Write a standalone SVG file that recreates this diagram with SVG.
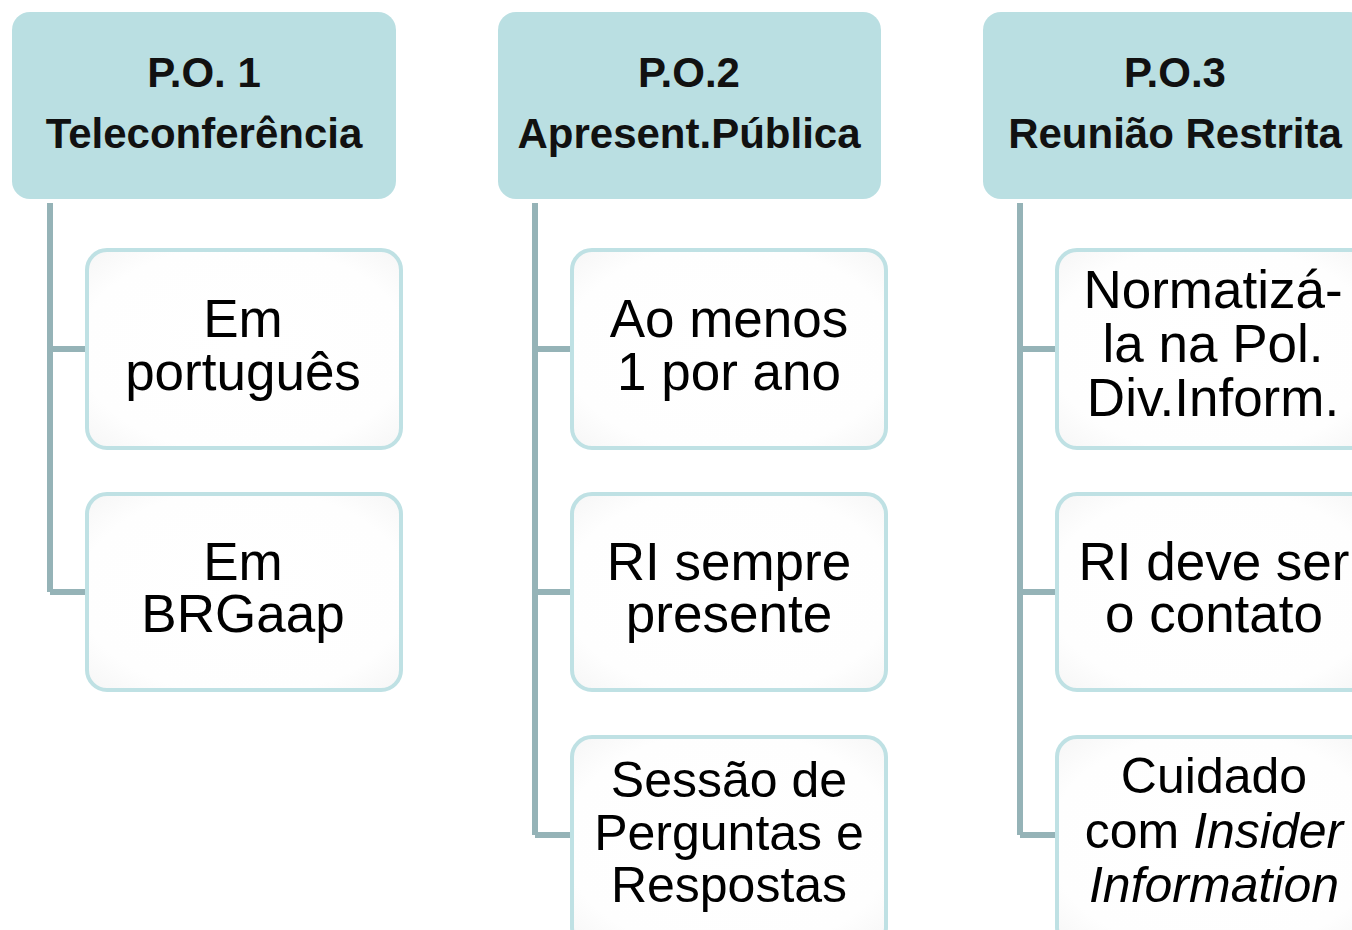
<svg xmlns="http://www.w3.org/2000/svg" width="1352" height="930" viewBox="0 0 1352 930">
<style>
.hdr{fill:#badfe2;}
.child{fill:url(#cg);stroke:#bfe1e4;stroke-width:4;}
.conn{stroke:#95b3b7;stroke-width:6;fill:none;}
.ht{font-family:"Liberation Sans",Arial,sans-serif;font-weight:bold;font-size:42px;fill:#111;text-anchor:middle;}
.ct{font-family:"Liberation Sans",Arial,sans-serif;font-size:53px;fill:#000;text-anchor:middle;}
.c3{font-size:50px;}
</style>
<defs>
<radialGradient id="cg" cx="50%" cy="50%" r="70%">
<stop offset="0" stop-color="#ffffff"/>
<stop offset="0.75" stop-color="#fefefe"/>
<stop offset="1" stop-color="#f6f6f6"/>
</radialGradient>
</defs>
<rect width="1352" height="930" fill="#ffffff"/>
<g id="connectors">
<path class="conn" d="M50 203 V592 M50 349 H87 M50 592 H87"/>
<path class="conn" d="M535 203 V835 M535 349 H572 M535 592 H572 M535 835 H572"/>
<path class="conn" d="M1020 203 V835 M1020 349 H1057 M1020 592 H1057 M1020 835 H1057"/>
</g>
<g id="po1">
<rect class="hdr" x="12" y="12" width="384" height="187" rx="18"/>
<text class="ht" x="204" y="87">P.O. 1</text>
<text class="ht" x="204" y="148">Teleconferência</text>
</g>
<g id="po1-a">
<rect class="child" x="87" y="250" width="314" height="198" rx="20"/>
<text class="ct" x="243" y="337">Em</text>
<text class="ct" x="243" y="390">português</text>
</g>
<g id="po1-b">
<rect class="child" x="87" y="494" width="314" height="196" rx="20"/>
<text class="ct" x="243" y="580">Em</text>
<text class="ct" x="243" y="632">BRGaap</text>
</g>
<g id="po2">
<rect class="hdr" x="498" y="12" width="383" height="187" rx="18"/>
<text class="ht" x="689" y="87">P.O.2</text>
<text class="ht" x="689" y="148">Apresent.Pública</text>
</g>
<g id="po2-a">
<rect class="child" x="572" y="250" width="314" height="198" rx="20"/>
<text class="ct" x="729" y="337">Ao menos</text>
<text class="ct" x="729" y="390">1 por ano</text>
</g>
<g id="po2-b">
<rect class="child" x="572" y="494" width="314" height="196" rx="20"/>
<text class="ct" x="729" y="580">RI sempre</text>
<text class="ct" x="729" y="632">presente</text>
</g>
<g id="po2-c">
<rect class="child" x="572" y="737" width="314" height="210" rx="20"/>
<text class="ct c3" x="729" y="797">Sessão de</text>
<text class="ct c3" x="729" y="850">Perguntas e</text>
<text class="ct c3" x="729" y="902">Respostas</text>
</g>
<g id="po3">
<rect class="hdr" x="983" y="12" width="384" height="187" rx="18"/>
<text class="ht" x="1175" y="87">P.O.3</text>
<text class="ht" x="1175" y="148">Reunião Restrita</text>
</g>
<g id="po3-a">
<rect class="child" x="1057" y="250" width="314" height="198" rx="20"/>
<text class="ct" x="1213" y="308">Normatizá-</text>
<text class="ct" x="1213" y="362">la na Pol.</text>
<text class="ct" x="1213" y="416">Div.Inform.</text>
</g>
<g id="po3-b">
<rect class="child" x="1057" y="494" width="314" height="196" rx="20"/>
<text class="ct" x="1214" y="580">RI deve ser</text>
<text class="ct" x="1214" y="632">o contato</text>
</g>
<g id="po3-c">
<rect class="child" x="1057" y="737" width="314" height="210" rx="20"/>
<text class="ct c3" x="1214" y="793">Cuidado</text>
<text class="ct c3" x="1214" y="848">com <tspan font-style="italic">Insider</tspan></text>
<text class="ct c3" x="1214" y="902" font-style="italic">Information</text>
</g>
</svg>
